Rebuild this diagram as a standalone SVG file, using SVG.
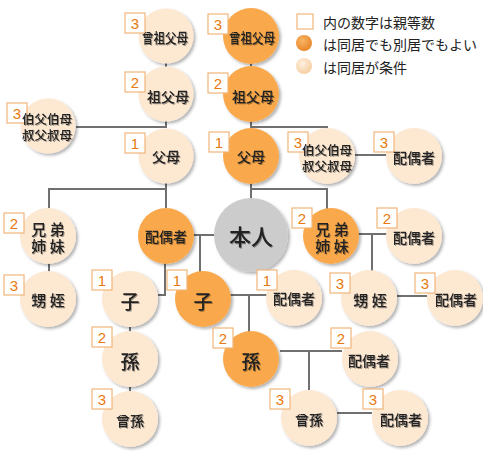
<svg xmlns="http://www.w3.org/2000/svg" width="483" height="462" viewBox="0 0 483 462">
<defs>
<filter id="sh" x="-20%" y="-20%" width="150%" height="150%"><feDropShadow dx="2" dy="2" stdDeviation="1.5" flood-color="#000" flood-opacity="0.3"/></filter>
<filter id="tsh" x="-10%" y="-10%" width="130%" height="130%"><feDropShadow dx="1" dy="1" stdDeviation="0.6" flood-color="#000" flood-opacity="0.35"/></filter>
<radialGradient id="gOr" cx="40%" cy="35%" r="65%"><stop offset="0" stop-color="#f9b564"/><stop offset="1" stop-color="#e8872a"/></radialGradient>
<radialGradient id="gLt" cx="40%" cy="35%" r="65%"><stop offset="0" stop-color="#fdf0e0"/><stop offset="1" stop-color="#f6cfa2"/></radialGradient>
<style>
.or{fill:#f9a94b;filter:url(#sh)}
.lt{fill:#fde8d2;filter:url(#sh)}
.me{fill:#cccccc;filter:url(#sh)}
.bx{fill:#fff;stroke:#f0b57a;stroke-width:1.2}
.bn{font-family:"Liberation Sans",Arial,sans-serif;font-size:15px;fill:#e87a10;text-anchor:middle;dominant-baseline:central}
.t{font-family:"Noto Sans CJK JP","Noto Sans",sans-serif;font-size:14px;font-weight:500;fill:#222;text-anchor:middle;dominant-baseline:central;filter:url(#tsh)}
.s{font-size:12.5px}
.m{font-size:15px}
.b{font-size:19px}
.xl{font-size:22px}
.lg{font-family:"Noto Sans CJK JP","Noto Sans",sans-serif;font-size:14px;fill:#222;dominant-baseline:central}
#connectors path{fill:none;stroke:#707070;stroke-width:2}
</style>
</defs>
<rect width="483" height="462" fill="#fff"/>

<g id="connectors">
<path d="M166,63V68"/>
<path d="M166,120V128"/>
<path d="M76,127H166"/>
<path d="M251,63V68"/>
<path d="M251,120V128"/>
<path d="M251,127H327V130"/>
<path d="M355,155H387"/>
<path d="M166,183V208"/>
<path d="M166,189H49V208"/>
<path d="M49,263V272"/>
<path d="M251,183V198"/>
<path d="M251,189H327V209"/>
<path d="M193,235H214"/>
<path d="M200,235V272"/>
<path d="M165,263V295H158"/>
<path d="M130,327V332"/>
<path d="M130,387V392"/>
<path d="M230,295H267"/>
<path d="M249,295V332"/>
<path d="M358,234H387"/>
<path d="M372,234V271"/>
<path d="M397,296H427"/>
<path d="M280,351H342"/>
<path d="M309,351V390"/>
<path d="M337,413H372"/>
</g>

<g id="legend">
<rect x="297" y="14" width="16" height="15" class="bx"/>
<text x="323" y="22" class="lg">内の数字は親等数</text>
<circle cx="304" cy="43" r="8" fill="url(#gOr)"/>
<text x="323" y="44" class="lg">は同居でも別居でもよい</text>
<circle cx="304" cy="66" r="8" fill="url(#gLt)"/>
<text x="323" y="67" class="lg">は同居が条件</text>
</g>

<g id="n-sosofubo-l"><circle cx="166" cy="36" r="27.5" class="lt"/><rect x="125" y="13" width="20" height="20" class="bx"/><text x="135" y="23" class="bn">3</text><text x="165" y="37" class="t" font-size="13" textLength="46" lengthAdjust="spacingAndGlyphs">曾祖父母</text></g>
<g id="n-sofubo-l"><circle cx="166" cy="94" r="27.5" class="lt"/><rect x="125" y="72" width="20" height="20" class="bx"/><text x="135" y="82" class="bn">2</text><text x="168" y="96" class="t">祖父母</text></g>
<g id="n-oji-l"><circle cx="48" cy="126" r="27.5" class="lt"/><rect x="7" y="103" width="20" height="20" class="bx"/><text x="135" y="113" class="bn" transform="translate(-118,0)">3</text><text class="t s"><tspan x="47" y="118">伯父伯母</tspan><tspan x="47" y="134">叔父叔母</tspan></text></g>
<g id="n-fubo-l"><circle cx="166" cy="156" r="27.5" class="lt"/><rect x="125" y="133" width="20" height="20" class="bx"/><text x="135" y="143" class="bn">1</text><text x="166" y="156" class="t">父母</text></g>

<g id="n-sosofubo-r"><circle cx="251" cy="36" r="28" class="or"/><rect x="208" y="14" width="20" height="20" class="bx"/><text x="218" y="24" class="bn">3</text><text x="252" y="37" class="t" font-size="13" textLength="46" lengthAdjust="spacingAndGlyphs">曾祖父母</text></g>
<g id="n-sofubo-r"><circle cx="251" cy="94" r="28" class="or"/><rect x="208" y="73" width="20" height="20" class="bx"/><text x="218" y="83" class="bn">2</text><text x="253" y="96" class="t">祖父母</text></g>
<g id="n-fubo-r"><circle cx="251" cy="156" r="28" class="or"/><rect x="209" y="132" width="20" height="20" class="bx"/><text x="219" y="142" class="bn">1</text><text x="251" y="156" class="t">父母</text></g>
<g id="n-oji-r"><circle cx="327" cy="156" r="28" class="lt"/><rect x="288" y="132" width="20" height="20" class="bx"/><text x="298" y="142" class="bn">3</text><text class="t s"><tspan x="327" y="149">伯父伯母</tspan><tspan x="327" y="165">叔父叔母</tspan></text></g>
<g id="n-haiguu-oji"><circle cx="414" cy="156" r="28" class="lt"/><rect x="374" y="132" width="20" height="20" class="bx"/><text x="384" y="142" class="bn">3</text><text x="414" y="157" class="t">配偶者</text></g>

<g id="n-kyoudai-l"><circle cx="48" cy="236" r="28" class="lt"/><rect x="4" y="213" width="20" height="20" class="bx"/><text x="14" y="223" class="bn">2</text><text class="t m" xml:space="preserve"><tspan x="48" y="228">兄 弟</tspan><tspan x="48" y="245">姉 妹</tspan></text></g>
<g id="n-oimei-l"><circle cx="48" cy="299" r="28" class="lt"/><rect x="4" y="275" width="20" height="20" class="bx"/><text x="14" y="285" class="bn">3</text><text x="48" y="299" class="t m" xml:space="preserve">甥 姪</text></g>
<g id="n-haiguu"><circle cx="166" cy="236" r="28" class="or"/><text x="166" y="236" class="t">配偶者</text></g>
<g id="n-honnin"><circle cx="251" cy="235" r="37" class="me"/><text x="251" y="235" class="t xl">本人</text></g>
<g id="n-kyoudai-r"><circle cx="331" cy="236" r="28" class="or"/><rect x="292" y="208" width="20" height="20" class="bx"/><text x="302" y="218" class="bn">2</text><text class="t m" xml:space="preserve"><tspan x="332" y="228">兄 弟</tspan><tspan x="332" y="245">姉 妹</tspan></text></g>
<g id="n-haiguu-kyoudai"><circle cx="414" cy="236" r="28" class="lt"/><rect x="377" y="208" width="20" height="20" class="bx"/><text x="387" y="218" class="bn">2</text><text x="414" y="237" class="t">配偶者</text></g>
<g id="n-oimei-r"><circle cx="369" cy="298" r="28" class="lt"/><rect x="330" y="273" width="20" height="20" class="bx"/><text x="340" y="283" class="bn">3</text><text x="370" y="299" class="t m" xml:space="preserve">甥 姪</text></g>
<g id="n-haiguu-oimei"><circle cx="455" cy="298" r="28" class="lt"/><rect x="415" y="273" width="20" height="20" class="bx"/><text x="425" y="283" class="bn">3</text><text x="456" y="299" class="t">配偶者</text></g>

<g id="n-ko-l"><circle cx="130" cy="299" r="28" class="lt"/><rect x="92" y="270" width="20" height="20" class="bx"/><text x="102" y="280" class="bn">1</text><text x="130" y="300" class="t b">子</text></g>
<g id="n-ko-r"><circle cx="203" cy="299" r="28" class="or"/><rect x="167" y="270" width="20" height="20" class="bx"/><text x="177" y="280" class="bn">1</text><text x="203" y="300" class="t b">子</text></g>
<g id="n-haiguu-ko"><circle cx="294" cy="298" r="28" class="lt"/><rect x="257" y="270" width="20" height="20" class="bx"/><text x="267" y="280" class="bn">1</text><text x="294" y="298" class="t">配偶者</text></g>
<g id="n-mago-l"><circle cx="130" cy="359" r="28" class="lt"/><rect x="92" y="327" width="20" height="20" class="bx"/><text x="102" y="337" class="bn">2</text><text x="130" y="360" class="t b">孫</text></g>
<g id="n-himago-l"><circle cx="130" cy="419" r="28" class="lt"/><rect x="92" y="389" width="20" height="20" class="bx"/><text x="102" y="399" class="bn">3</text><text x="130" y="420" class="t">曾孫</text></g>
<g id="n-mago-r"><circle cx="251" cy="359" r="28" class="or"/><rect x="213" y="328" width="20" height="20" class="bx"/><text x="223" y="338" class="bn">2</text><text x="251" y="360" class="t b">孫</text></g>
<g id="n-haiguu-mago"><circle cx="370" cy="359" r="28" class="lt"/><rect x="331" y="328" width="20" height="20" class="bx"/><text x="341" y="338" class="bn">2</text><text x="369" y="360" class="t">配偶者</text></g>
<g id="n-himago-r"><circle cx="309" cy="418" r="28" class="lt"/><rect x="270" y="389" width="20" height="20" class="bx"/><text x="280" y="399" class="bn">3</text><text x="309" y="419" class="t">曾孫</text></g>
<g id="n-haiguu-himago"><circle cx="400" cy="418" r="28" class="lt"/><rect x="363" y="389" width="20" height="20" class="bx"/><text x="373" y="399" class="bn">3</text><text x="401" y="419" class="t">配偶者</text></g>
</svg>
